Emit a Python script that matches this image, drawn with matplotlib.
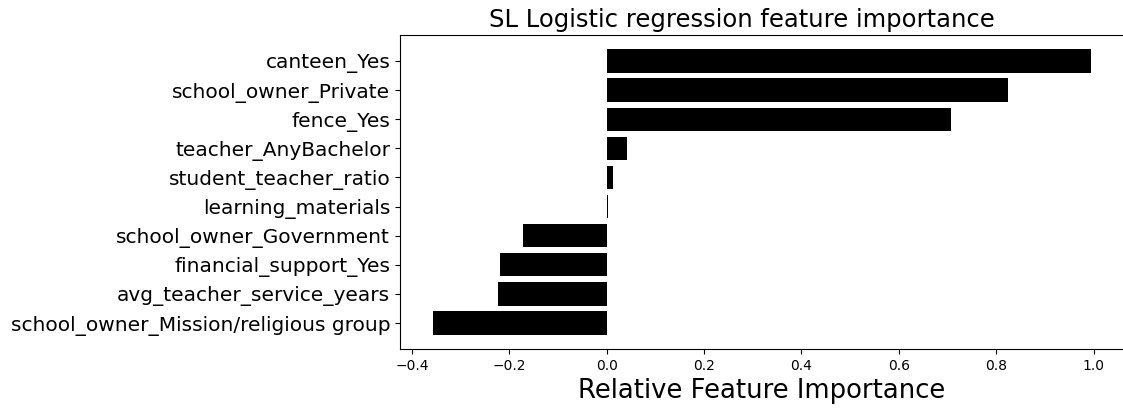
import matplotlib
matplotlib.use("Agg")
import matplotlib.pyplot as plt
import numpy as np

# features, from bottom to top
features = ['school_owner_Mission/religious group', 'avg_teacher_service_years',
            'financial_support_Yes', 'school_owner_Government', 'learning_materials',
            'student_teacher_ratio', 'teacher_AnyBachelor', 'fence_Yes',
            'school_owner_Private', 'canteen_Yes']
importance = [-0.357, -0.223, -0.219, -0.171, 0.002, 0.013, 0.042, 0.708, 0.825, 0.995]


def main():
    fig = plt.figure(figsize=(11.23, 4.09), dpi=100)
    ax = fig.add_axes([0.3562, 0.1467, 0.6447, 0.7677])
    pos = np.arange(len(features))
    ax.barh(pos, importance, color='black', height=0.8)
    ax.set_yticks(pos)
    ax.set_yticklabels(features, fontsize=14.5)
    ax.tick_params(axis='x', labelsize=10)
    ax.set_xlabel('Relative Feature Importance', fontsize=18.6)
    ax.set_title('SL Logistic regression feature importance', fontsize=17.5,
                 x=(742 - 400) / 724.0)
    fig.savefig('out.png', dpi=100)


if __name__ == '__main__':
    main()
